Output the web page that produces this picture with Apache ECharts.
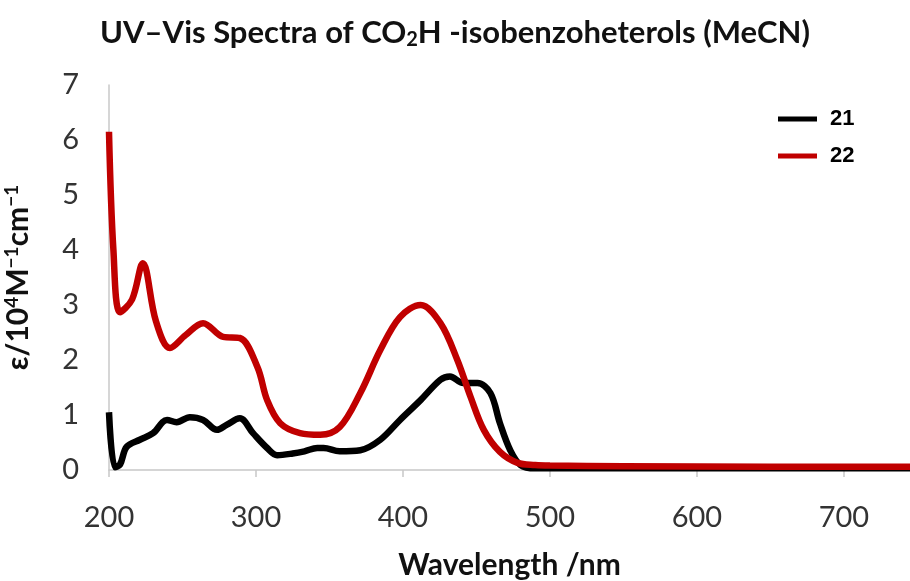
<!DOCTYPE html>
<html><head><meta charset="utf-8">
<script src="https://cdn.jsdelivr.net/npm/echarts@6/dist/echarts.min.js"></script>
<style>html,body{margin:0;padding:0;background:#fff}#c{width:910px;height:581px}</style>
</head><body><div id="c"></div>
<script>
const seriesNames = ['21', '22'];
const wl21 = [200,204,207.5,212,221,230,239.5,246,255,264,273.5,280,289,298,307.6,314.4,325,333,341.7,346,357,371,384.6,398,412,425.5,432,441,450.7,459.5,466,473,480,490,520,600,745];
const eps21 = [1.05,0.05,0.1,0.42,0.55,0.67,0.91,0.87,0.96,0.91,0.73,0.82,0.94,0.67,0.4,0.27,0.3,0.34,0.4,0.4,0.34,0.36,0.55,0.91,1.27,1.64,1.7,1.58,1.58,1.4,0.85,0.36,0.09,0.03,0.03,0.03,0.03];
const wl22 = [200,203,207.5,215.7,223,232,241.5,252,264,277.7,289,301,307.6,316.5,330,343.7,357,371,384.6,398,412,425.5,437,446,455,466,478,490,500,550,650,745];
const eps22 = [6.15,4.0,2.87,3.1,3.76,2.7,2.22,2.45,2.67,2.42,2.4,1.87,1.27,0.85,0.67,0.64,0.78,1.4,2.18,2.78,3.0,2.67,2.0,1.33,0.73,0.33,0.13,0.09,0.08,0.07,0.06,0.06];
const colors = ['#000000', '#C00000'];

const toPairs = (xs, ys) => xs.map((x, i) => [x, ys[i]]);
const chart = echarts.init(document.getElementById('c'), null, {renderer: 'canvas'});
chart.setOption({
  animation: false,
  backgroundColor: '#fff',
  title: {
    text: 'UV\u2013Vis Spectra of CO{sub|2}H -isobenzoheterols (MeCN)',
    left: 'center', top: 11,
    textStyle: {
      fontFamily: 'Lato', fontWeight: 'bold', fontSize: 31, color: '#111',
      rich: { sub: { fontFamily: 'Lato', fontWeight: 'bold', fontSize: 20, color: '#111', verticalAlign: 'bottom', padding: [14,0,0,0] } }
    }
  },
  legend: {
    orient: 'vertical', left: 773, top: 103, itemGap: 15,
    itemWidth: 39, itemHeight: 5, icon: 'rect',
    textStyle: { fontFamily: 'Liberation Sans', fontWeight: 'bold', fontSize: 22, color: '#000', padding: [0,0,0,8] },
    data: seriesNames
  },
  grid: { left: 109, right: 0, top: 85, bottom: 111, outerBoundsMode: 'none', containLabel: false },
  xAxis: {
    type: 'value', min: 200, max: 745, interval: 100,
    name: 'Wavelength /nm', nameLocation: 'middle', nameGap: 80,
    nameTextStyle: { fontFamily: 'Lato', fontWeight: 'bold', fontSize: 30, color: '#111' },
    axisLine: { lineStyle: { color: '#c8c8c8', width: 1.5 } },
    axisTick: { show: true, length: 7, lineStyle: { color: '#c8c8c8', width: 1.5 } },
    axisLabel: { fontFamily: 'Lato', fontSize: 29, color: '#333', margin: 33, showMaxLabel: false },
    splitLine: { show: false }
  },
  yAxis: {
    type: 'value', min: 0, max: 7, interval: 1,
    name: '\u03b5/10{sup|4}M{sup|\u22121}cm{sup|\u22121}', nameLocation: 'middle', nameGap: 74, nameRotate: 90,
    nameTextStyle: { fontFamily: 'Lato', fontWeight: 'bold', fontSize: 30, color: '#111',
      rich: { sup: { fontFamily: 'Lato', fontWeight: 'bold', fontSize: 19, color: '#111', verticalAlign: 'top', padding: [0,0,14,0] } } },
    axisLine: { show: true, lineStyle: { color: '#c8c8c8', width: 1.5 } },
    axisTick: { show: false },
    axisLabel: { fontFamily: 'Lato', fontSize: 29, color: '#333', margin: 30 },
    splitLine: { show: false }
  },
  series: [
    { name: seriesNames[0], type: 'line', data: toPairs(wl21, eps21), smooth: 0.35, showSymbol: false,
      lineStyle: { color: colors[0], width: 6.5 }, itemStyle: { color: colors[0] }, z: 2 },
    { name: seriesNames[1], type: 'line', data: toPairs(wl22, eps22), smooth: 0.35, showSymbol: false,
      lineStyle: { color: colors[1], width: 6.5 }, itemStyle: { color: colors[1] }, z: 3 }
  ]
});
</script></body></html>
